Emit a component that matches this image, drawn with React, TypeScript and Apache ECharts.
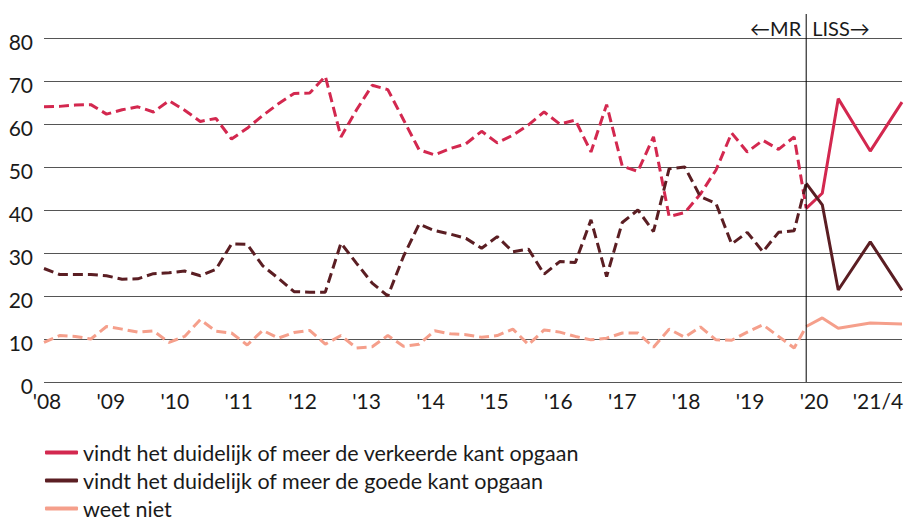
import React, { useEffect, useRef } from "react";
import * as echarts from "echarts";

const seriesNames = [
  "vindt het duidelijk of meer de verkeerde kant opgaan",
  "vindt het duidelijk of meer de goede kant opgaan",
  "weet niet",
];
const colors = ["#d3284f", "#5b1e23", "#f59f8b"];

const yearLabels = ["'08", "'09", "'10", "'11", "'12", "'13", "'14", "'15", "'16", "'17", "'18", "'19", "'20", "'21/4"];
const labelStart = 0.19;
const labelStep = 4.09;

// MR (dashed), one value per measurement, index 0..48
const mrVerkeerd = [
  64.0, 64.1, 64.4, 64.5, 62.3, 63.3, 64.0, 62.8, 65.4, 63.2, 60.6, 61.3, 56.5, 59.0,
  62.0, 64.7, 67.1, 67.2, 71.1, 57.0, 63.3, 69.0, 68.0, 61.0, 54.0, 52.8, 54.3, 55.4,
  58.3, 55.6, 57.4, 59.8, 62.8, 60.0, 60.9, 53.5, 64.5, 50.2, 49.0, 57.0, 38.5, 39.4,
  43.7, 49.3, 57.9, 53.5, 56.2, 54.1, 57.0,
];
const mrGoed = [
  26.4, 25.0, 25.0, 25.0, 24.7, 23.9, 24.0, 25.2, 25.4, 25.8, 24.7, 26.2, 32.1, 32.0,
  27.0, 24.1, 21.0, 20.9, 20.9, 32.3, 27.6, 23.0, 20.0, 29.2, 36.7, 35.2, 34.4, 33.4,
  31.1, 33.8, 30.3, 30.9, 25.1, 28.0, 27.8, 37.7, 24.5, 37.1, 40.0, 35.0, 49.6, 50.0,
  43.1, 41.5, 32.1, 34.8, 30.3, 34.8, 35.2,
];
const mrWeetNiet = [
  9.2, 10.8, 10.6, 10.0, 12.9, 12.3, 11.6, 11.9, 9.2, 10.6, 14.5, 11.8, 11.4, 8.6,
  12.0, 10.2, 11.5, 12.0, 8.8, 10.8, 7.9, 8.2, 10.8, 8.3, 8.8, 11.9, 11.2, 11.0,
  10.4, 10.8, 12.3, 8.7, 12.1, 11.6, 10.6, 9.8, 10.2, 11.4, 11.4, 8.1, 12.3, 10.4,
  12.8, 9.8, 9.7, 11.6, 13.3, 10.6, 7.9,
];

// LISS (solid)
const lissPos = [48.77, 49.8, 50.82, 52.87, 54.9];
const lissVerkeerd = [40.4, 43.9, 65.9, 53.7, 65.1];
const lissGoed = [46.2, 41.2, 21.4, 32.6, 21.3];
const lissWeetNiet = [12.9, 14.9, 12.5, 13.7, 13.5];

const FONT = "Lato, 'Noto Sans', sans-serif";

export default function App() {
  const ref = useRef<HTMLDivElement>(null);

  useEffect(() => {
    if (!ref.current) return;
    const chart = echarts.init(ref.current, undefined, { renderer: "svg" });

    const mrAll = [mrVerkeerd, mrGoed, mrWeetNiet];
    const lissAll = [lissVerkeerd, lissGoed, lissWeetNiet];

    const lissSeries = lissAll.map((vals, k) => ({
      name: seriesNames[k],
      type: "line",
      symbol: "none",
      data: vals.map((v, i) => [lissPos[i], v]),
      lineStyle: { color: colors[k], width: 3, type: "solid" },
      itemStyle: { color: colors[k] },
      z: 3,
    }));
    const mrSeries = mrAll.map((vals, k) => ({
      name: seriesNames[k],
      type: "line",
      symbol: "none",
      data: [...vals.map((v, i) => [i, v]), [lissPos[0], lissAll[k][0]]],
      lineStyle: { color: colors[k], width: 3, type: [10, 5] },
      itemStyle: { color: colors[k] },
      z: 2,
    }));

    const legendRowTops = [441.5, 469.5, 497.5];
    const legends = seriesNames.map((n, k) => ({
      orient: "horizontal",
      left: 45,
      top: legendRowTops[k],
      padding: 0,
      itemWidth: 33,
      itemHeight: 4,
      selectedMode: false,
      textStyle: { fontSize: 21.5, color: "#1a1a1a", fontFamily: FONT, lineHeight: 19 },
      data: [{ name: n, icon: "roundRect", itemStyle: { color: colors[k] } }],
    }));

    const option: any = {
      animation: false,
      textStyle: { fontFamily: FONT },
      grid: { left: 44, right: 11, top: 38, bottom: 138, containLabel: false },
      legend: legends,
      xAxis: {
        type: "value",
        min: 0,
        max: lissPos[lissPos.length - 1],
        axisLine: { show: false },
        axisTick: { show: false },
        splitLine: { show: false },
        axisLabel: {
          customValues: yearLabels.map((_, k) => labelStart + k * labelStep),
          formatter: (v: number) => yearLabels[Math.round((v - labelStart) / labelStep)] ?? "",
          fontSize: 21,
          color: "#1a1a1a",
          fontFamily: FONT,
          margin: 8,
          showMinLabel: true,
          showMaxLabel: true,
        },
      },
      yAxis: {
        type: "value",
        min: 0,
        max: 80,
        interval: 10,
        axisLine: { show: false },
        axisTick: { show: false },
        splitLine: { show: true, lineStyle: { color: "#555555", width: 1 } },
        axisLabel: {
          margin: 11,
          formatter: "{v|{value}}",
          rich: {
            v: {
              fontSize: 21,
              color: "#1a1a1a",
              fontFamily: FONT,
              padding: [7, 0, 0, 0],
            },
          },
        },
      },
      series: [...lissSeries, ...mrSeries],
    };

    chart.setOption(option);

    const px = chart.convertToPixel({ xAxisIndex: 0 }, lissPos[0]) as number;
    const yBottom = chart.convertToPixel({ yAxisIndex: 0 }, 0) as number;
    chart.setOption({
      graphic: [
        {
          type: "line",
          shape: { x1: px, y1: 14, x2: px, y2: yBottom },
          style: { stroke: "#000", lineWidth: 1 },
          z: 10,
        },
        {
          type: "text",
          x: px - 5,
          y: 28,
          style: {
            text: "←MR",
            fontSize: 20,
            fontFamily: FONT,
            fill: "#1a1a1a",
            align: "right",
            verticalAlign: "middle",
          },
        },
        {
          type: "text",
          x: px + 6,
          y: 28,
          style: {
            text: "LISS→",
            fontSize: 20,
            fontFamily: FONT,
            fill: "#1a1a1a",
            align: "left",
            verticalAlign: "middle",
          },
        },
      ],
    });

    return () => chart.dispose();
  }, []);

  return (
    <div
      ref={ref}
      style={{ position: "fixed", left: 0, top: 0, width: 913, height: 520, background: "#fff" }}
    />
  );
}
